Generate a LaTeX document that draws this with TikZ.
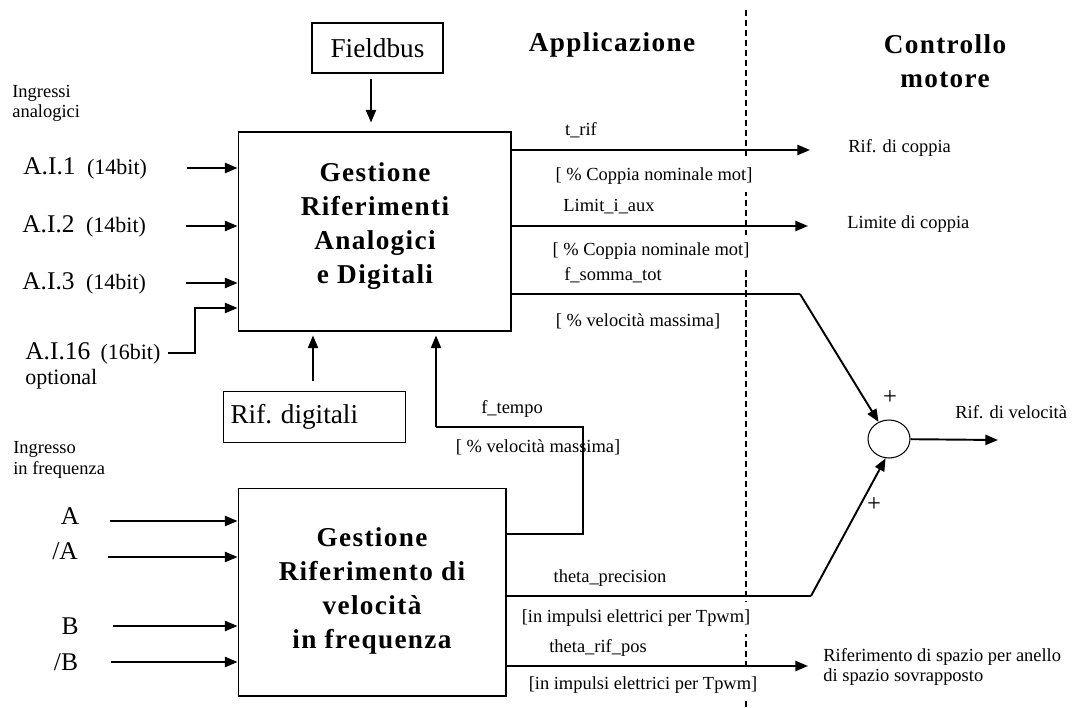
\documentclass[tikz,border=0pt]{standalone}
\usepackage{fontspec}
\setmainfont{Liberation Serif}
\newfontfamily\headfont[LetterSpace=5]{Liberation Serif}
\usetikzlibrary{arrows.meta,shapes.geometric}
\newcommand{\smallsz}{\fontsize{10.5}{11.5}\selectfont}
\newcommand{\bigsz}{\fontsize{14.5}{17}\selectfont}
\newcommand{\boxsz}{\fontsize{15.5}{17}\selectfont}
\newcommand{\bitsz}{\fontsize{12.5}{14}\selectfont}
\newcommand{\headsz}{\headfont\bfseries\fontsize{15.5}{19.3}\selectfont}

\begin{document}
\begin{tikzpicture}[x=0.02cm,y=-0.02cm,
  blk/.style={draw,line width=0.6pt,inner sep=0pt},
  ttl/.style={font=\headsz,align=center,inner sep=0pt},
  sig/.style={line width=1.1pt,-{Triangle[length=7.2pt,width=5.8pt]}},
  wire/.style={line width=0.6pt},
  sml/.style={font=\smallsz,inner sep=0pt},
  unit/.style={font=\smallsz,fill=white,inner xsep=1pt,inner ysep=4pt,text height=8pt,text depth=2.5pt},
  inp/.style={font=\bigsz,inner sep=0pt,anchor=west},
  sym/.style={font=\bigsz,inner sep=0pt}]
\useasboundingbox (0,0) rectangle (1072,707);
% border between application and motor control
\draw[line width=1.1pt,dash pattern=on 3.5pt off 2.2pt] (746,10) -- (746,707);
% headers
\node[ttl] (app) at (612,45) {Applicazione};
\node[ttl] (ctrl) at (945,61) {Controllo\\motore};
% blocks
\node[blk,minimum width=2.62cm,minimum height=1cm] (fieldbus) at (377.5,48) {\boxsz Fieldbus};
\node[blk,minimum width=5.46cm,minimum height=3.98cm] (gra) at (374.5,231.5) {};
\node[ttl] (gratxt) at (375,226) {Gestione\\Riferimenti\\Analogici\\e Digitali};
\node[blk,text width=3.36cm,inner xsep=0.14cm,align=left,minimum height=1.02cm] (rifdig) at (314.5,417) {\boxsz Rif. digitali};
\node[blk,minimum width=5.36cm,minimum height=4.16cm] (grv) at (372,592) {};
\node[ttl] (grvtxt) at (372,591) {Gestione\\Riferimento di\\velocità\\in frequenza};
\node[draw,ellipse,line width=0.6pt,minimum width=0.84cm,minimum height=0.76cm,inner sep=0pt] (sum) at (889,439) {};
% analog inputs
\node[sml,anchor=west,align=left] (ingan) at (12,103) {Ingressi\\analogici};
\node[inp] (ai1) at (23,168) {A.I.1\hspace{0.45em}{\bitsz(14bit)}};
\node[inp] (ai2) at (22,226) {A.I.2\hspace{0.45em}{\bitsz(14bit)}};
\node[inp] (ai3) at (22,283) {A.I.3\hspace{0.45em}{\bitsz(14bit)}};
\node[inp] (ai16) at (25,353) {A.I.16\hspace{0.4em}{\bitsz(16bit)}};
\node[font=\bitsz,inner sep=0pt,anchor=west] (opt) at (25,379) {optional};
% frequency inputs
\node[sml,anchor=west,align=left] (ingfr) at (13,460) {Ingresso\\in frequenza};
\node[sym] (inA) at (70,516) {A};
\node[sym] (innA) at (65,551) {/A};
\node[sym] (inB) at (70,626) {B};
\node[sym] (innB) at (66,662) {/B};
% signal labels
\node[sml] (trif) at (581,130) {t\_rif};
\node[unit] (trifu) at (654,176) {[ \% Coppia nominale mot]};
\node[sml] (limit) at (609,207) {Limit\_i\_aux};
\node[unit] (limitu) at (651,251) {[ \% Coppia nominale mot]};
\node[sml] (fsum) at (613,275) {f\_somma\_tot};
\node[unit] (fsumu) at (638,322) {[ \% velocità massima]};
\node[sml] (ftempo) at (512,409) {f\_tempo};
\node[unit] (ftempou) at (538,448) {[ \% velocità massima]};
\node[sml] (tprec) at (610,578) {theta\_precision};
\node[unit] (tprecu) at (636,618) {[in impulsi elettrici per Tpwm]};
\node[sml] (tpos) at (598,648) {theta\_rif\_pos};
\node[unit] (tposu) at (643,685) {[in impulsi elettrici per Tpwm]};
% motor control side
\node[sml,anchor=west] (rcop) at (848,148) {Rif. di coppia};
\node[sml,anchor=west] (rlim) at (847,224) {Limite di coppia};
\node[sml,anchor=west] (rvel) at (955,412) {Rif. di velocità};
\node[sml,anchor=west,align=left] (rspa) at (823,667) {Riferimento di spazio per anello\\di spazio sovrapposto};
\node[font=\fontsize{14}{15}\selectfont,inner sep=0pt] (pa) at (890,398) {+};
\node[font=\fontsize{14}{15}\selectfont,inner sep=0pt] (pb) at (874,505) {+};
% free ends
\coordinate (ai1s) at (187,168);
\coordinate (ai2s) at (186,226);
\coordinate (ai3s) at (186,283);
\coordinate (ai16s) at (168,353);
\coordinate (As) at (110,521);
\coordinate (nAs) at (108,557);
\coordinate (Bs) at (113,626);
\coordinate (nBs) at (111,662);
\coordinate (trife) at (810,150);
\coordinate (lime) at (808,226);
\coordinate (fsk) at (800,294);
\coordinate (ftc) at (583,427);
\coordinate (ftk) at (436,427);
\coordinate (tpk) at (811,596);
\coordinate (tpose) at (808,666);
\coordinate (rvele) at (998,440);
% connectors
\foreach \s/\b in {ai1s/gra,ai2s/gra,ai3s/gra,As/grv,nAs/grv,Bs/grv,nBs/grv}
  \draw[sig] (\s) -- (\s -| \b.west);
\draw[sig] (ai16s) -- ++(27,0) |- (gra.west |- 0,308);
\draw[sig,shorten <=0.1cm,shorten >=0.18cm] (fieldbus.south -| 371,0) -- (gra.north -| 371,0);
\draw[sig,shorten <=0.19cm,shorten >=0.08cm] (rifdig.north -| 313,0) -- (gra.south -| 313,0);
\draw[sig] (gra.east |- trife) -- (trife);
\draw[sig] (gra.east |- lime) -- (lime);
\draw[wire] (gra.east |- fsk) -- (fsk);
\draw[sig] (fsk) -- (sum);
\draw[wire] (grv.east |- 0,534) -| (ftc) -- (ftk);
\draw[sig,shorten >=0.08cm] (ftk) -- (gra.south -| ftk);
\draw[wire] (grv.east |- tpk) -- (tpk);
\draw[sig] (tpk) -- (sum.-100);
\draw[sig] (grv.east |- tpose) -- (tpose);
\draw[sig] (sum) -- (rvele);
\end{tikzpicture}
\end{document}
